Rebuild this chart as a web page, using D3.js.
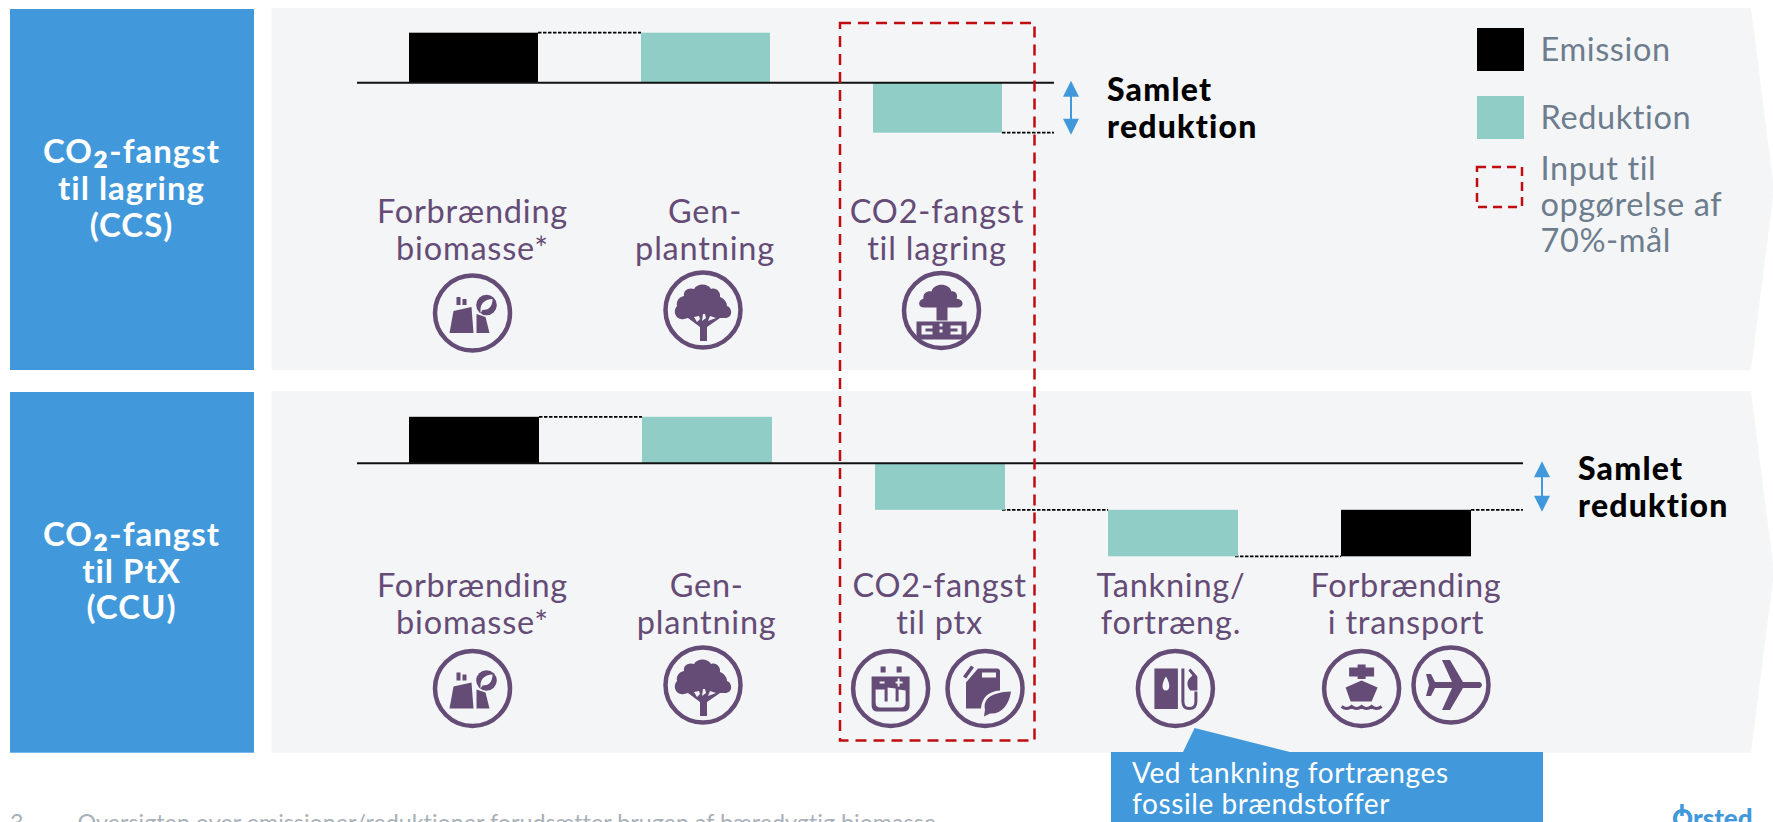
<!DOCTYPE html>
<html><head><meta charset="utf-8">
<script src="https://cdn.jsdelivr.net/npm/d3@7"></script>
<style>html,body{margin:0;padding:0;background:#fff;overflow:hidden}svg{display:block}text{font-family:Lato,sans-serif;font-variant-ligatures:none}</style>
</head><body><div id="c"></div>
<script>
// ---- data (values are relative units: the chart has no value axis) ----
const ccsSteps = ["Forbrænding biomasse*", "Gen-plantning", "CO2-fangst til lagring"];
const ccsValues = [1, -1, -1];
const ccsKinds = ["Emission", "Reduktion", "Reduktion"];
const ccsLabels = [["Forbrænding","biomasse*"],["Gen-","plantning"],["CO2-fangst","til lagring"]];
const ptxSteps = ["Forbrænding biomasse*", "Gen-plantning", "CO2-fangst til ptx", "Tankning/fortræng.", "Forbrænding i transport"];
const ptxValues = [1, -1, -1, -1, 1];
const ptxKinds = ["Emission", "Reduktion", "Reduktion", "Reduktion", "Emission"];
const ptxLabels = [["Forbrænding","biomasse*"],["Gen-","plantning"],["CO2-fangst","til ptx"],["Tankning/","fortræng."],["Forbrænding","i transport"]];
const legendKinds = ["Emission", "Reduktion"];
const legendInput = ["Input til","opgørelse af","70%-mål"];
const totalLabel = ["Samlet","reduktion"];
const rowOneTitle = ["CO₂-fangst","til lagring","(CCS)"];
const rowTwoTitle = ["CO₂-fangst","til PtX","(CCU)"];
const calloutLines = ["Ved tankning fortrænges","fossile brændstoffer"];
const footnote = "Oversigten over emissioner/reduktioner forudsætter brugen af bæredygtig biomasse";

const W = 1773, H = 822;
const C = {blue:"#4199dc", panel:"#f4f5f7", teal:"#90cdc6", black:"#000", purple:"#644c76", grey:"#6d7d8d", red:"#c00d12"};
const color = d3.scaleOrdinal(legendKinds, [C.black, C.teal]);
const svg = d3.select("#c").append("svg").attr("width",W).attr("height",H).attr("viewBox",`0 0 ${W} ${H}`);

function multi(g, lines, x, y, lh, size, fill, weight, anchor, ls){
  return g.append("text").attr("font-size",size).attr("font-weight",weight||400).attr("fill",fill).attr("text-anchor",anchor||"middle")
   .attr("letter-spacing",ls||0)
   .selectAll("tspan").data(lines).join("tspan").attr("x",x).attr("y",(d,i)=>y+i*lh).text(d=>d);
}

// ---- icons, drawn around the centre of their ring ----
function ring(g){ g.append("circle").attr("r",37.5).attr("fill","none").attr("stroke",C.purple).attr("stroke-width",4.5); }
function fillPath(g,d,even){ const p=g.append("path").attr("fill",C.purple).attr("d",d); if(even)p.attr("fill-rule","evenodd"); return p; }
const iconDraw = {
  biomass(g){
    ring(g);
    fillPath(g,"M-23,20 L-19,-2 L-1,-6 L1,20 Z M4,20 L4,1 L13,4 L17,20 Z M-16,-16h4v8h-4Z M-10,-14h4v6h-4Z");
    g.append("circle").attr("cx",14).attr("cy",-8).attr("r",10.3).attr("fill",C.purple);
    g.append("path").attr("fill",C.panel).attr("d","M8,-3 C8,-10 13,-14 20,-14 C20,-6 16,-3 10,-3 L8,0 Z");
  },
  tree(g){
    ring(g);
    fillPath(g,"M-3,31 L-3,17 L-15,8 L-19,9 C-27,11 -31,1 -26,-4 C-27,-9 -24,-13 -19,-14 C-20,-20 -14,-23 -9,-21 C-6,-27 5,-27 8,-21 C13,-23 18,-18 17,-13 C22,-11 24,-7 24,-4 C30,-2 30,9 21,8 L17,8 L4,17 L4,31 Z");
    g.append("path").attr("fill",C.panel).attr("d","M-9,7 L-6,12 L-3,9 L-4,6 Z M0,4 L-1,11 L3,8 L2,4 Z M7,6 L5,11 L13,8 Z");
  },
  storage(g){
    ring(g);
    fillPath(g,"M-5,10 L-5,-3 L-17,-3 C-24,-3 -24,-10 -18,-12 C-19,-18 -13,-20 -10,-19 C-8,-28 8,-28 10,-19 C14,-20 17,-15 15,-12 C23,-11 23,-3 16,-3 L6,-3 L6,10 Z");
    fillPath(g,"M-25,11 H25 V29 H-25 Z M-20,15 H-9 V18 H-16 V21 H-9 V24 H-20 Z M20,15 H9 V18 H16 V21 H9 V24 H20 Z M-2,13 h3 v3 h-3 Z M-2,19 h3 v3 h-3 Z",true);
  },
  battery(g){
    ring(g);
    fillPath(g,"M-10,-22h5v6h-5Z M6,-22h5v6h-5Z");
    fillPath(g,"M-19,-12 H19 V17 Q19,23 13,23 H-13 Q-19,23 -19,17 Z M-15,1 V14 Q-15,19 -10,19 H10 Q15,19 15,14 V2 L8,1 V13 H5 V0 L-3,-1 V13 H-6 V1 Z M-11,-7 h5 v2 h-5 Z M5,-7 h2 v-3 h2 v3 h3 v2 h-3 v3 h-2 v-3 h-2 Z",true);
  },
  can(g){
    ring(g);
    fillPath(g,"M-19,-6 L-7,-20 H12 Q15,-20 15,-17 V2 C3,3 -3,9 -4,20 H-19 Z M-3,-16 V-11 H11 V-16 Z M-22,-12 L-14,-23 L-11,-21 L-19,-10 Z",true);
    fillPath(g,"M0,21 C-2,10 6,4 26,3 C24,17 16,26 5,25 L-1,28 Z");
  },
  pump(g){
    ring(g);
    fillPath(g,"M-21,-20 H2.5 V20.5 H-21 Z M-9.5,-12 C-14,-5 -14,2 -9.5,2 C-5,2 -5,-5 -9.5,-12 Z",true);
    g.append("path").attr("fill","none").attr("stroke",C.purple).attr("stroke-width",3).attr("d","M7.5,-20 V13 Q7.5,20 14,20 Q20.5,20 20.5,13 V3");
    fillPath(g,"M15,-20 L22,-12 V2 H15 C11,-2 11,-8 15,-11 L17,-13 L13,-18 Z");
  },
  ship(g){
    ring(g);
    fillPath(g,"M-4,-24 H4 V-21 H12.5 V-12 H4 V-9.5 H-4 V-12 H-12.5 V-21 H-4 Z M0,-8 L16,-1 L10,13 H-11 L-16,-1 Z");
    g.append("path").attr("fill","none").attr("stroke",C.purple).attr("stroke-width",3).attr("d","M-20,18 q5,4 10,0 q5,4 10,0 q5,4 10,0 q5,4 10,0");
  },
  plane(g){
    ring(g);
    fillPath(g,"M-9,-25 H-1 L12,-3 H29 Q33,0 29,3 H12 L-1,25 H-9 L1,3 H-16 L-20,11 H-25 L-22,0 L-25,-11 H-20 L-16,-3 H1 Z");
  }
};
function icon(g,name,x,y){ iconDraw[name](g.append("g").attr("transform",`translate(${x},${y})`)); }

// ---- one waterfall row ----
function row(o){
  const g = svg.append("g");
  const tip = W+1, r = 1751, ym = (o.top+o.bottom)/2;
  g.append("path").attr("fill",C.panel).attr("d",d3.line()([[271.5,o.top],[r,o.top],[tip,ym],[r,o.bottom],[271.5,o.bottom]])+"Z");
  g.append("rect").attr("x",10).attr("y",o.top+1).attr("width",244).attr("height",o.bottom-o.top-1).attr("fill",C.blue);
  const lines = multi(g,o.title,131.5,o.titleY,o.titleLh,33,"#fff",700,"middle",1);
  // the subscript glyph of the first line is enlarged to the reference's size
  lines.filter((d,i)=>i===0).text(null).each(function(d){
    const t = d3.select(this), [a,b] = d.split("₂");
    t.append("tspan").text(a);
    t.append("tspan").attr("font-size",46).text("₂");
    t.append("tspan").text(b);
  });

  const n = o.steps.length;
  const x = d3.scaleBand().domain(o.steps).range([o.x0, o.x0+o.step*(n-1)+o.bw]).paddingInner(1-o.bw/o.step).paddingOuter(0);
  const y = d3.scaleLinear().domain([0,1]).range([o.y0,o.y0-o.unit]);
  let run = 0;
  const recs = o.values.map((v,i)=>{const a=run; run+=v; return {step:o.steps[i],kind:o.kinds[i],from:a,to:run};});
  // connectors
  const conn = g.append("g").attr("stroke","#000").attr("stroke-width",1.8).attr("stroke-dasharray","3.5 1.5").attr("fill","none");
  recs.slice(0,-1).forEach((d,i)=>{
    const nx = recs[i+1];
    if(d.to===0 && nx.from===0) return;
    conn.append("line").attr("x1",x(d.step)+x.bandwidth()-(d.to<0?3:0)).attr("x2",x(nx.step)).attr("y1",y(d.to)).attr("y2",y(d.to));
  });
  const last = recs[recs.length-1];
  conn.append("line").attr("x1",x(last.step)+x.bandwidth()).attr("x2",o.axisEnd).attr("y1",y(last.to)).attr("y2",y(last.to));
  // bars
  g.selectAll("rect.bar").data(recs).join("rect").attr("class","bar")
    .attr("x",d=>x(d.step)).attr("width",x.bandwidth())
    .attr("y",d=>y(Math.max(d.from,d.to))).attr("height",d=>Math.abs(y(d.from)-y(d.to)))
    .attr("fill",d=>color(d.kind));
  // baseline
  g.append("line").attr("x1",357).attr("x2",o.axisEnd).attr("y1",y(0)).attr("y2",y(0)).attr("stroke","#111").attr("stroke-width",2);
  // arrow
  const ax=o.arrowX, y1=y(0)-2, y2=y(-1)+2;
  g.append("line").attr("x1",ax).attr("x2",ax).attr("y1",y1+8).attr("y2",y2-8).attr("stroke",C.blue).attr("stroke-width",2);
  g.append("path").attr("fill",C.blue).attr("d",`M${ax},${y1}l8,16h-16Z M${ax},${y2}l8,-16h-16Z`);
  multi(g,totalLabel,o.totalX,y(0)+o.totalDy,37.5,32,"#000",900,"start",1.2);
  // labels
  o.labels.forEach((l,i)=>multi(g,l,o.labelX[i],o.labelY,37,32.5,C.purple,400,"middle",0.8));
  o.icons.forEach(a=>icon(g,a[0],a[1],a[2]));
}

row({top:8,bottom:370,y0:82.7,unit:50,x0:409,step:232,bw:129,steps:ccsSteps,values:ccsValues,kinds:ccsKinds,labels:ccsLabels,
  labelX:[472.5,705,937],labelY:223,axisEnd:1054,arrowX:1071,totalX:1107,totalDy:18,
  title:rowOneTitle,titleY:163,titleLh:37,
  icons:[["biomass",472.5,313],["tree",703,310],["storage",941.5,310.5]]});
row({top:391,bottom:752.7,y0:463.3,unit:46.5,x0:409,step:233,bw:130,steps:ptxSteps,values:ptxValues,kinds:ptxKinds,labels:ptxLabels,
  labelX:[472.5,706.7,939.6,1171,1406],labelY:596.5,axisEnd:1523,arrowX:1542,totalX:1578,totalDy:16.5,
  title:rowTwoTitle,titleY:546,titleLh:36.5,
  icons:[["biomass",472.5,688.5],["tree",703,685],["battery",890.6,688.5],["can",985,688.5],["pump",1175.4,688.5],["ship",1361.6,688.5],["plane",1451,685]]});

// red dashed box
svg.append("rect").attr("x",840).attr("y",23).attr("width",194.5).attr("height",717.5).attr("fill","none").attr("stroke",C.red).attr("stroke-width",2.5).attr("stroke-dasharray","11 7");

// legend
const lg = svg.append("g");
lg.selectAll("rect").data(legendKinds).join("rect").attr("x",1477).attr("width",47).attr("y",(d,i)=>28+i*68).attr("height",43).attr("fill",d=>color(d));
lg.selectAll("text.k").data(legendKinds).join("text").attr("class","k").attr("x",1540.5).attr("y",(d,i)=>61+i*68).attr("font-size",32.5).attr("letter-spacing",0.6).attr("fill",C.grey).text(d=>d);
lg.append("rect").attr("x",1477).attr("y",167).attr("width",45).attr("height",40).attr("fill","none").attr("stroke",C.red).attr("stroke-width",2.5).attr("stroke-dasharray","9 6");
multi(lg,legendInput,1540.5,180,36,32.5,C.grey,400,"start",0.6);

// callout
svg.append("path").attr("fill",C.blue).attr("d",d3.line()([[1111,752],[1183,752],[1194.6,728],[1290,752],[1543,752],[1543,823],[1111,823]])+"Z");
multi(svg,calloutLines,1132,783,30.5,28,"#fff",400,"start",0.6);

// footer
svg.append("text").attr("x",10).attr("y",831).attr("font-size",23.3).attr("fill","#a8b0b8").text("3");
svg.append("text").attr("x",77.5).attr("y",831).attr("font-size",23.3).attr("fill","#a8b0b8").text(footnote);
svg.append("text").attr("x",1672).attr("y",828).attr("font-size",26).attr("font-weight",900).attr("fill",C.blue).text("Orsted");
svg.append("line").attr("x1",1682).attr("x2",1682).attr("y1",804).attr("y2",816).attr("stroke",C.blue).attr("stroke-width",3.5);
</script></body></html>
